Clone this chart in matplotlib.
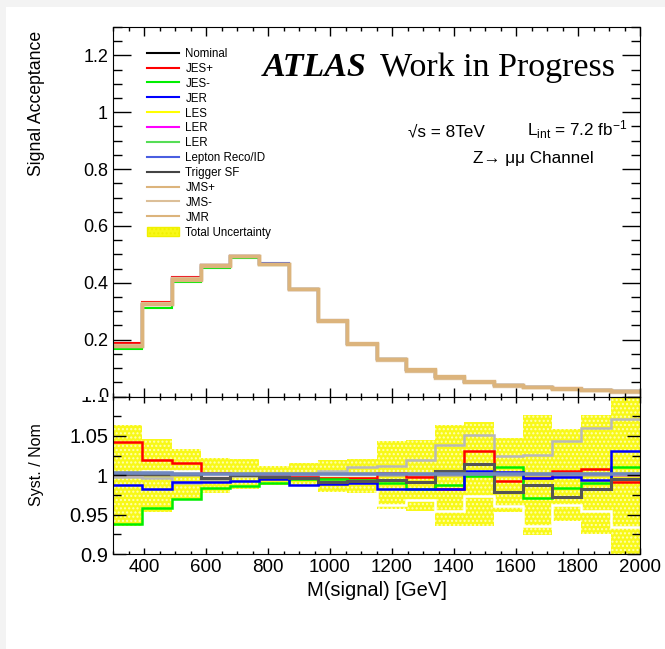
import numpy as np
import matplotlib
matplotlib.use("Agg")
import matplotlib.pyplot as plt
from matplotlib.ticker import MultipleLocator, FuncFormatter
from matplotlib.lines import Line2D
from matplotlib.patches import Patch, Rectangle
from matplotlib.transforms import Bbox, TransformedBbox

plt.rcParams["font.family"] = ["Liberation Sans", "DejaVu Sans"]
plt.rcParams["mathtext.fontset"] = "custom"
plt.rcParams["mathtext.rm"] = "Liberation Sans"
plt.rcParams["mathtext.it"] = "Liberation Sans:italic"
plt.rcParams["hatch.linewidth"] = 1.0

# ---- binning: 18 equal-width mass bins ----
mass_lo, mass_hi, n_bins = 300.0, 2000.0, 18
edges = np.linspace(mass_lo, mass_hi, n_bins + 1)

# ---- nominal signal acceptance per bin ----
nominal = np.array([0.179, 0.326, 0.415, 0.461, 0.494, 0.467, 0.379, 0.267, 0.185,
                    0.132, 0.094, 0.070, 0.051, 0.039, 0.034, 0.028, 0.023, 0.018])

# ---- systematic / nominal ratios per bin ----
ratio_nominal = np.array([1.000, 1.000, 1.000, 1.000, 1.000, 1.000, 1.000, 1.000, 1.000,
                          1.000, 1.000, 1.000, 1.000, 1.000, 1.000, 1.000, 1.000, 1.000])
ratio_jes_up = np.array([1.042, 1.019, 1.016, 1.003, 1.000, 0.999, 0.998, 0.997, 0.997,
                         1.003, 0.998, 0.983, 1.031, 0.993, 0.997, 1.006, 1.008, 0.991])
ratio_jes_down = np.array([0.938, 0.958, 0.970, 0.984, 0.986, 0.990, 0.995, 0.995, 0.994,
                           0.990, 0.983, 0.988, 0.999, 1.010, 0.971, 0.984, 0.990, 1.011])
ratio_jer = np.array([0.988, 0.983, 0.991, 0.991, 0.993, 0.995, 0.988, 0.989, 0.990,
                      0.983, 0.983, 0.983, 1.006, 1.004, 0.996, 0.998, 0.994, 1.031])
ratio_les = np.array([1.001, 1.001, 1.000, 1.000, 1.001, 1.000, 1.000, 1.000, 1.001,
                      1.000, 1.001, 1.000, 1.001, 1.000, 1.000, 1.001, 1.000, 1.001])
ratio_ler = np.array([1.000, 1.001, 1.001, 1.000, 1.000, 1.001, 1.000, 1.001, 1.000,
                      1.001, 1.000, 1.001, 1.000, 1.001, 1.001, 1.000, 1.001, 1.000])
ratio_ler2 = np.array([1.001, 1.000, 1.000, 1.001, 1.000, 1.000, 1.001, 1.000, 1.000,
                       1.000, 1.001, 1.000, 1.000, 1.000, 1.001, 1.000, 1.000, 1.001])
ratio_lepton = np.array([1.003, 1.003, 1.002, 1.002, 1.002, 1.002, 1.001, 1.002, 1.002,
                         1.002, 1.002, 1.002, 1.002, 1.002, 1.002, 1.002, 1.002, 1.002])
ratio_trigger = np.array([1.001, 1.002, 1.001, 0.997, 1.000, 0.998, 0.997, 0.991, 0.993,
                          0.994, 0.991, 1.005, 1.014, 0.979, 0.987, 0.973, 0.982, 0.995])
ratio_jms_up = np.array([0.998, 0.996, 0.990, 0.995, 0.999, 1.000, 1.000, 1.005, 1.010,
                         1.012, 1.020, 1.038, 1.051, 1.025, 1.026, 1.043, 1.060, 1.072])
ratio_jms_down = np.array([1.003, 1.006, 1.006, 1.000, 1.000, 1.000, 1.000, 1.000, 1.000,
                           0.962, 0.968, 0.954, 0.974, 0.961, 0.935, 0.962, 0.954, 0.934])
ratio_jmr = np.array([1.000, 1.000, 1.000, 1.000, 1.000, 1.000, 1.000, 1.000, 1.000,
                      1.000, 1.000, 1.000, 1.000, 1.000, 1.000, 1.000, 1.000, 1.000])

# ---- total uncertainty band (relative to nominal) ----
band_low = np.array([0.935, 0.953, 0.969, 0.977, 0.982, 0.988, 0.988, 0.979, 0.978,
                     0.957, 0.955, 0.936, 0.935, 0.953, 0.924, 0.942, 0.925, 0.870])
band_high = np.array([1.064, 1.046, 1.033, 1.022, 1.020, 1.012, 1.016, 1.020, 1.021,
                      1.043, 1.045, 1.064, 1.067, 1.047, 1.077, 1.059, 1.076, 1.130])

labels = ["Nominal", "JES+", "JES-", "JER", "LES", "LER", "LER", "Lepton Reco/ID",
          "Trigger SF", "JMS+", "JMS-", "JMR"]
ratios = [ratio_nominal, ratio_jes_up, ratio_jes_down, ratio_jer, ratio_les, ratio_ler,
          ratio_ler2, ratio_lepton, ratio_trigger, ratio_jms_up, ratio_jms_down, ratio_jmr]
colors = ["#000000", "#ff0000", "#00ee00", "#0000ff", "#ffff00", "#ff00ff", "#55dd55",
          "#4a5ee0", "#444444", "#dcb47c", "#dcbf98", "#dcb47c"]
# colours used for the same systematics in the ratio pad
ratio_colors = ["#000000", "#ff0000", "#00ee00", "#0000ff", "#ffff00", "#ff00ff", "#55dd55",
                "#7088c0", "#555555", "#b8b8b8", "#ffffff", "#dcb47c"]
top_widths = [1.5, 1.5, 1.5, 1.5, 1.5, 1.5, 1.5, 1.5, 1.5, 2.4, 2.4, 2.4]
ratio_widths = [1.8, 1.8, 1.8, 1.8, 1.8, 1.8, 1.8, 2.6, 2.2, 1.8, 1.8, 1.8]
ratio_order = [0, 4, 5, 6, 11, 10, 9, 1, 2, 3, 8, 7]

band_face = "#f8f818"
band_hatch = "#ffffb0"

W, H = 665, 649
fig = plt.figure(figsize=(W / 100, H / 100), dpi=100)
fig.patch.set_facecolor("white")


def fx(px):
    return px / W


def fy(py):
    return 1 - py / H


# light frame strips on the canvas edges
fig.add_artist(Rectangle((0, 0), fx(6), 1, transform=fig.transFigure,
                         facecolor="#f3f3f3", edgecolor="none", zorder=-5))
fig.add_artist(Rectangle((0, fy(7)), 1, 1 - fy(7), transform=fig.transFigure,
                         facecolor="#f3f3f3", edgecolor="none", zorder=-5))

split = 396.5
ax_top = fig.add_axes([fx(113), fy(split), fx(640) - fx(113), fy(27) - fy(split)])
ax_bot = fig.add_axes([fx(113), fy(554), fx(640) - fx(113), fy(split) - fy(554)])

# ---- upper pad: acceptance histograms ----
for lab, r, c, lw in zip(labels, ratios, colors, top_widths):
    ax_top.stairs(nominal * r, edges, color=c, lw=lw, baseline=None)

ax_top.set_xlim(mass_lo, mass_hi)
ax_top.set_ylim(0, 1.3)

# ---- lower pad: ratios with uncertainty band ----
ax_bot.bar(edges[:-1], band_high - band_low, width=np.diff(edges), bottom=band_low,
           align="edge", facecolor=band_face, edgecolor=band_hatch, hatch="....",
           linewidth=0)
for i in ratio_order:
    ax_bot.stairs(ratios[i], edges, color=ratio_colors[i], lw=ratio_widths[i],
                  baseline=None)
ax_bot.set_xlim(mass_lo, mass_hi)
ax_bot.set_ylim(0.9, 1.1)

# ---- ticks ----
for ax in (ax_top, ax_bot):
    ax.tick_params(axis="both", which="both", direction="in", top=True, right=True,
                   width=1.0, colors="black")
    ax.xaxis.set_major_locator(MultipleLocator(200))
    ax.xaxis.set_minor_locator(MultipleLocator(50))
    for s in ax.spines.values():
        s.set_linewidth(0.8)

ax_top.yaxis.set_major_locator(MultipleLocator(0.2))
ax_top.yaxis.set_minor_locator(MultipleLocator(0.05))
ax_top.tick_params(axis="y", which="major", length=13, pad=3.6, labelsize=13)
ax_top.tick_params(axis="y", which="minor", length=6.5)
ax_top.tick_params(axis="x", which="major", length=6.5, labelbottom=False)
ax_top.tick_params(axis="x", which="minor", length=3.2)
ax_top.yaxis.set_major_formatter(
    FuncFormatter(lambda v, p: "" if abs(v) < 1e-9 else f"{v:g}"))

ax_bot.yaxis.set_major_locator(MultipleLocator(0.05))
ax_bot.yaxis.set_minor_locator(MultipleLocator(0.025))
ax_bot.tick_params(axis="y", which="major", length=9.4, pad=3.6, labelsize=14.5)
ax_bot.tick_params(axis="y", which="minor", length=5.8)
ax_bot.tick_params(axis="x", which="major", length=4.5, pad=3.5, labelsize=13.5)
ax_bot.tick_params(axis="x", which="minor", length=2.3)
ax_bot.yaxis.set_major_formatter(
    FuncFormatter(lambda v, p: "" if v > 1.09 else f"{v:g}"))
ax_bot.xaxis.set_major_formatter(FuncFormatter(lambda v, p: f"{v:g}"))

# labels sitting on the pad boundary, each cut by its own pad
t_zero = ax_top.annotate("0", xy=(0, 0), xycoords=ax_top.get_yaxis_transform(),
                         xytext=(-3.6, 0), textcoords="offset points", ha="right",
                         va="center", fontsize=13, annotation_clip=False)
t_zero.set_clip_box(TransformedBbox(Bbox([[0, fy(split)], [1, 1]]), fig.transFigure))
t_zero.set_clip_on(True)
t_top = ax_bot.annotate("1.1", xy=(0, 1.1), xycoords=ax_bot.get_yaxis_transform(),
                        xytext=(-3.6, 0), textcoords="offset points", ha="right",
                        va="center", fontsize=14.5, annotation_clip=False)
t_top.set_clip_box(TransformedBbox(Bbox([[0, 0], [1, fy(split)]]), fig.transFigure))
t_top.set_clip_on(True)

# ---- axis titles ----
fig.text(fx(36.5), fy(31), "Signal Acceptance", rotation=90, ha="center", va="top",
         fontsize=12.7)
fig.text(fx(36.7), fy(465), "Syst. / Nom", rotation=90, ha="center", va="center",
         fontsize=11.5)
fig.text(fx(377), fy(590), "M(signal) [GeV]", ha="center", va="center", fontsize=14.5)

# ---- legend ----
handles = [Line2D([], [], color=c, lw=1.5) for c in colors]
handles.append(Patch(facecolor=band_face, edgecolor=band_hatch, hatch="....", lw=0))
leg_labels = labels + ["Total Uncertainty"]
leg = ax_top.legend(handles, leg_labels, loc="upper left",
                    bbox_to_anchor=(fx(147), fy(48)), bbox_transform=fig.transFigure,
                    frameon=False, fontsize=8.3, handlelength=2.78, handletextpad=0.55,
                    labelspacing=0.25, borderpad=0, borderaxespad=0, handleheight=0.9)
leg_patch = leg.get_patches()[0]
leg_patch.set_edgecolor("#f0f000")
leg_patch.set_linewidth(1.0)

# ---- ATLAS label and run info ----
fig.text(fx(263), fy(76), "ATLAS", fontsize=24.5, fontweight="bold",
         fontstyle="italic", family="Liberation Serif", va="baseline")
fig.text(fx(380), fy(76), "Work in Progress", fontsize=24.5,
         family="Liberation Serif", va="baseline")
fig.text(fx(408), fy(136), "\u221as = 8TeV", fontsize=12.3, va="baseline")
fig.text(fx(527), fy(136), r"L$_{\mathrm{int}}$ = 7.2 fb$^{\mathrm{-1}}$",
         fontsize=12.3, va="baseline")
fig.text(fx(473), fy(163), "Z\u2192 \u03bc\u03bc Channel", fontsize=12.3, va="baseline")

fig.savefig("out.png", dpi=100)
